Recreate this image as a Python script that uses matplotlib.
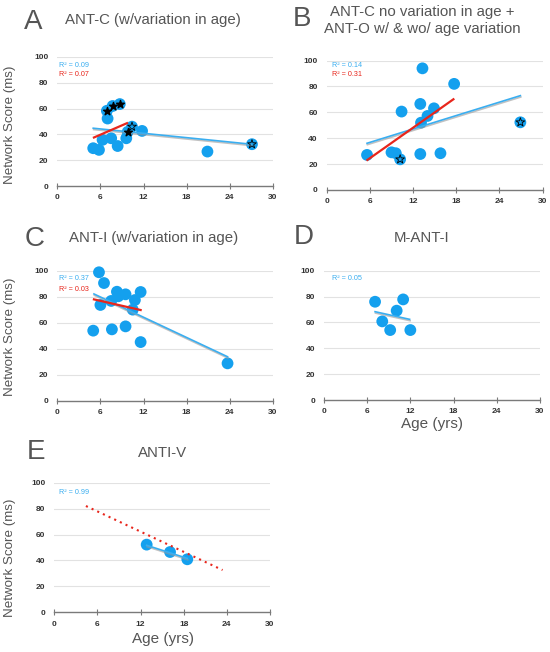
import matplotlib
matplotlib.use("Agg")
import matplotlib.pyplot as plt
import matplotlib.patheffects as pe

plt.rcParams['font.family'] = ['Liberation Sans', 'DejaVu Sans']

BLUE = '#14a0ee'
LINE_BLUE = '#3aaef0'
RED = '#e8261c'
GRAY_TXT = '#555555'

# ---- data ----
# A: ANT-C (w/variation in age)
a_age = [5.0, 5.8, 6.3, 6.9, 7.0, 7.7, 7.5, 8.7, 8.4, 9.6, 9.8, 10.4, 11.8, 20.9, 27.1]
a_score = [29.3, 28.0, 35.8, 58.3, 52.3, 62.0, 37.0, 63.5, 31.0, 37.0, 42.0, 46.0, 42.7, 26.7, 32.4]
a_star_age = [6.9, 7.7, 8.7, 9.8]
a_star_score = [58.3, 62.0, 63.5, 42.0]
a_open_age = [10.4, 27.1]
a_open_score = [46.0, 32.4]
a_blue_x, a_blue_y = [5.0, 27.0], [44.8, 32.4]
a_red_x, a_red_y = [5.1, 9.7], [37.6, 48.7]

# B: ANT-C no variation in age + ANT-O
b_age = [5.6, 9.0, 9.6, 10.2, 10.4, 13.0, 13.0, 13.1, 13.3, 14.0, 14.9, 15.8, 17.7, 26.9]
b_score = [27.1, 29.1, 28.4, 23.7, 60.6, 66.5, 27.8, 52.0, 94.0, 57.2, 63.1, 28.4, 82.0, 52.3]
b_open_age = [10.2, 26.9]
b_open_score = [23.7, 52.3]
b_blue_x, b_blue_y = [5.6, 26.9], [36.1, 72.9]
b_red_x, b_red_y = [5.65, 17.6], [23.2, 70.1]

# C: ANT-I (w/variation in age)
c_age = [5.0, 5.8, 6.0, 6.5, 7.5, 7.6, 8.3, 8.5, 9.5, 9.5, 10.5, 10.8, 11.6, 11.6, 23.7]
c_score = [54.0, 99.0, 73.8, 90.7, 76.9, 55.0, 84.0, 80.5, 82.0, 57.3, 70.2, 77.6, 83.8, 45.2, 28.8]
c_blue_x, c_blue_y = [5.1, 23.7], [82.3, 33.9]
c_red_x, c_red_y = [5.1, 11.6], [78.1, 69.9]

# D: M-ANT-I
d_age = [7.1, 8.1, 9.2, 10.1, 11.0, 12.0]
d_score = [76.0, 60.8, 54.1, 69.1, 77.8, 54.1]
d_blue_x, d_blue_y = [7.1, 11.9], [68.3, 62.4]

# E: ANTI-V
e_age = [12.85, 16.1, 18.5]
e_score = [52.2, 46.5, 40.9]
e_blue_x, e_blue_y = [12.85, 18.5], [51.7, 41.6]
e_red_x, e_red_y = [4.4, 23.4], [82.0, 32.6]

xticks = [0, 6, 12, 18, 24, 30]
yticks = [0, 20, 40, 60, 80, 100]

fig = plt.figure(figsize=(5.5, 6.52), dpi=100)


def make_ax(rect):
    ax = fig.add_axes(rect)
    ax.set_xlim(0, 30)
    ax.set_ylim(0, 100)
    ax.set_xticks(xticks)
    ax.set_yticks(yticks)
    for s in ['top', 'right', 'left']:
        ax.spines[s].set_visible(False)
    ax.spines['bottom'].set_color('#7a7a7a')
    ax.spines['bottom'].set_linewidth(1.0)
    ax.tick_params(axis='x', direction='inout', length=4, width=0.8,
                   color='#7a7a7a', labelsize=6, labelcolor='#333333', pad=4)
    ax.tick_params(axis='y', length=0, labelsize=6, labelcolor='#333333', pad=6.5)
    for lab in ax.get_xticklabels() + ax.get_yticklabels():
        lab.set_fontweight('bold')
    for y in yticks[1:]:
        ax.axhline(y, color='#e2e2e2', lw=0.8, zorder=0)
    return ax


def trend(ax, x, y):
    ax.plot(x, y, color=LINE_BLUE, lw=1.2, zorder=3,
            path_effects=[pe.SimpleLineShadow(offset=(0.3, -1.0), shadow_color='#999999', alpha=0.6),
                          pe.Normal()])


def dots(ax, x, y):
    ax.scatter(x, y, s=72, color=BLUE, edgecolor='none', zorder=2, clip_on=False)


axA = make_ax([0.1042, 0.7147, 0.3918, 0.1979])
dots(axA, a_age, a_score)
trend(axA, a_blue_x, a_blue_y)
axA.plot(a_red_x, a_red_y, color=RED, lw=1.6, zorder=3)
axA.scatter(a_star_age, a_star_score, marker='*', s=34, color='black', zorder=4)
axA.scatter(a_open_age, a_open_score, marker='*', s=44, facecolor='none',
            edgecolor='black', linewidth=0.6, zorder=4)
axA.text(0.3, 93.5, 'R² = 0.09', color=LINE_BLUE, fontsize=5.2, va='center')
axA.text(0.3, 86.5, 'R² = 0.07', color=RED, fontsize=5.2, va='center')

axB = make_ax([0.594, 0.7086, 0.3927, 0.1985])
dots(axB, b_age, b_score)
trend(axB, b_blue_x, b_blue_y)
axB.plot(b_red_x, b_red_y, color=RED, lw=1.6, zorder=3)
axB.scatter(b_open_age, b_open_score, marker='*', s=44, facecolor='none',
            edgecolor='black', linewidth=0.6, zorder=4)
axB.text(0.8, 96, 'R² = 0.14', color=LINE_BLUE, fontsize=5.2, va='center')
axB.text(0.8, 89, 'R² = 0.31', color=RED, fontsize=5.2, va='center')

axC = make_ax([0.1042, 0.3854, 0.3918, 0.1990])
dots(axC, c_age, c_score)
trend(axC, c_blue_x, c_blue_y)
axC.plot(c_red_x, c_red_y, color=RED, lw=1.6, zorder=3)
axC.text(0.3, 94.4, 'R² = 0.37', color=LINE_BLUE, fontsize=5.2, va='center')
axC.text(0.3, 86.0, 'R² = 0.03', color=RED, fontsize=5.2, va='center')

axD = make_ax([0.589, 0.3865, 0.3927, 0.1983])
dots(axD, d_age, d_score)
trend(axD, d_blue_x, d_blue_y)
axD.text(1.15, 94, 'R² = 0.05', color=LINE_BLUE, fontsize=5.2, va='center')

axE = make_ax([0.0987, 0.0609, 0.3922, 0.1988])
axE.plot(e_red_x, e_red_y, color=RED, lw=1.5, ls=(0, (1, 2)), zorder=3)
dots(axE, e_age, e_score)
trend(axE, e_blue_x, e_blue_y)
axE.text(0.7, 92.6, 'R² = 0.99', color=LINE_BLUE, fontsize=5.2, va='center')

# panel letters and titles
letters = [('A', 0.044, 0.966), ('B', 0.533, 0.971), ('C', 0.045, 0.634),
           ('D', 0.535, 0.636), ('E', 0.049, 0.307)]
for t, x, y in letters:
    fig.text(x, y, t, fontsize=20, color=GRAY_TXT, va='center', ha='left')

titles = [('ANT-C (w/variation in age)', 0.278, 0.969),
          ('ANT-C no variation in age +\nANT-O w/ & wo/ age variation', 0.767, 0.969),
          ('ANT-I (w/variation in age)', 0.280, 0.635),
          ('M-ANT-I', 0.767, 0.635),
          ('ANTI-V', 0.296, 0.305)]
for t, x, y in titles:
    fig.text(x, y, t, fontsize=10.8, color=GRAY_TXT, va='center', ha='center',
             linespacing=1.25)

for y in [0.808, 0.483, 0.144]:
    fig.text(0.019, y, 'Network Score (ms)', rotation=90, fontsize=9.6,
             color=GRAY_TXT, va='center', ha='center')

fig.text(0.785, 0.350, 'Age (yrs)', fontsize=11, color=GRAY_TXT, ha='center', va='center')
fig.text(0.296, 0.020, 'Age (yrs)', fontsize=11, color=GRAY_TXT, ha='center', va='center')

fig.savefig('out.png', dpi=100, facecolor='white')
